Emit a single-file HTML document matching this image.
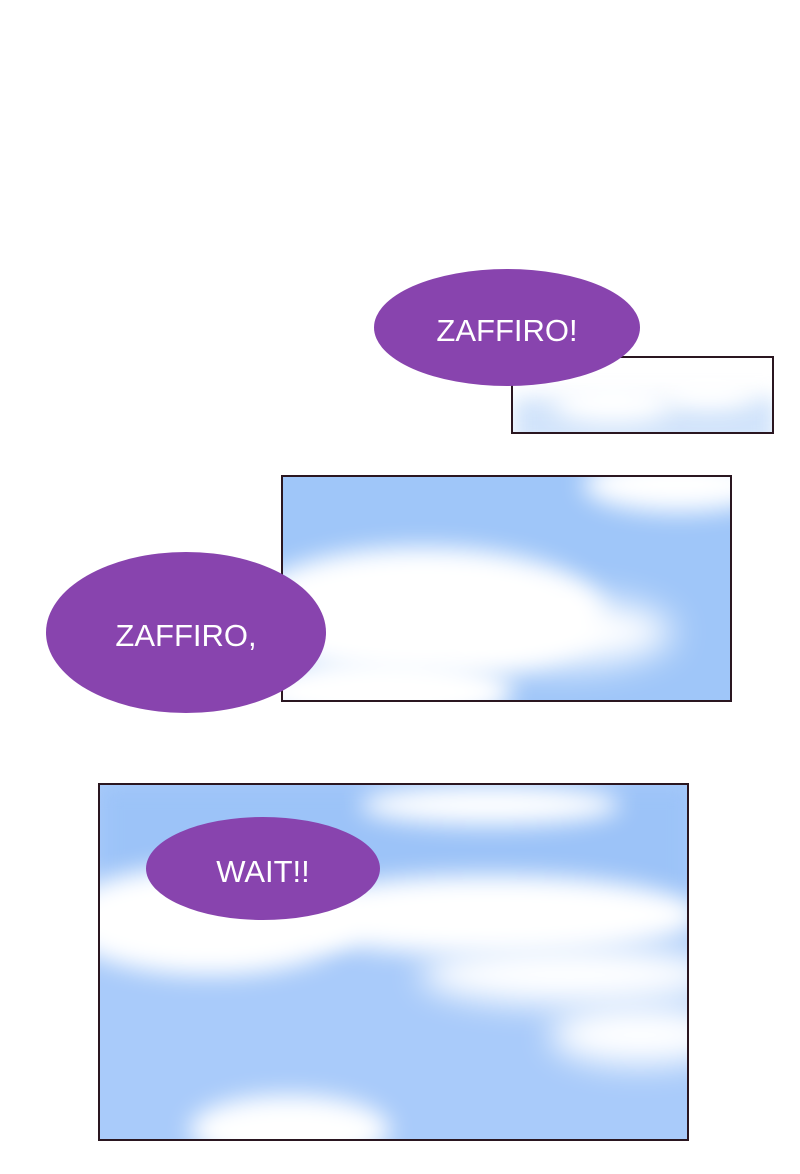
<!DOCTYPE html>
<html><head><style>
body{margin:0;width:800px;height:1174px;background:#fff;position:relative;overflow:hidden;font-family:"Liberation Sans",sans-serif}
.p{position:absolute;border:2px solid #2a1620;overflow:hidden;box-sizing:border-box}
.c{position:absolute;background:#fff;border-radius:50%;filter:blur(12px)}
.b{position:absolute;background:#8844ae;border-radius:50%;color:#fff;display:flex;align-items:center;justify-content:center;font-size:31px;padding-top:6px;box-sizing:border-box}
</style></head><body>
<div class="p" style="left:511px;top:356px;width:263px;height:78px;background:#fff">
 <div style="position:absolute;left:0;top:40px;width:263px;height:50px;background:#d2e4fb;filter:blur(10px)"></div>
 <div class="c" style="left:40px;top:25px;width:120px;height:40px"></div>
 <div class="c" style="left:150px;top:20px;width:90px;height:30px"></div>
</div>
<div class="p" style="left:281px;top:475px;width:451px;height:227px;background:#9fc6f9">
 <div class="c" style="left:-40px;top:70px;width:360px;height:130px"></div>
 <div class="c" style="left:150px;top:120px;width:240px;height:70px;filter:blur(18px)"></div>
 <div class="c" style="left:300px;top:-20px;width:190px;height:55px"></div>
 <div class="c" style="left:-30px;top:180px;width:260px;height:70px"></div>
</div>
<div class="p" style="left:98px;top:783px;width:591px;height:358px;background:#a9cbfa">
 <div style="position:absolute;left:0;top:0;width:591px;height:120px;background:#9cc3f8;filter:blur(10px)"></div>
 <div class="c" style="left:-40px;top:80px;width:300px;height:110px"></div>
 <div class="c" style="left:180px;top:90px;width:420px;height:80px"></div>
 <div class="c" style="left:320px;top:160px;width:300px;height:60px;filter:blur(16px)"></div>
 <div class="c" style="left:260px;top:0px;width:260px;height:40px"></div>
 <div class="c" style="left:450px;top:220px;width:180px;height:60px;filter:blur(16px)"></div>
 <div class="c" style="left:90px;top:310px;width:200px;height:70px"></div>
</div>
<div class="b" style="left:374px;top:269px;width:266px;height:117px">ZAFFIRO!</div>
<div class="b" style="left:46px;top:552px;width:280px;height:161px">ZAFFIRO,</div>
<div class="b" style="left:146px;top:817px;width:234px;height:103px">WAIT!!</div>
</body></html>
